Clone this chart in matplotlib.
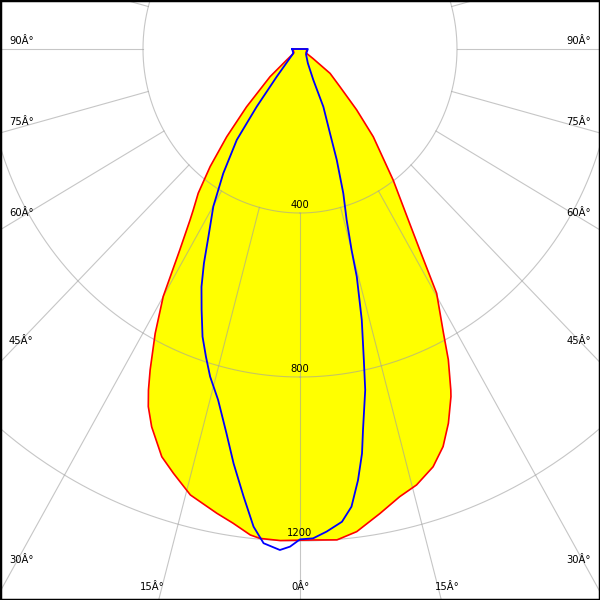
import numpy as np
import matplotlib
matplotlib.use("Agg")
import matplotlib.pyplot as plt

# light distribution, angle from nadir (deg) -> intensity (cd)
# C0-C180 plane (red, filled)
red_angles = [-90, -60, -55, -51.7, -48.5, -44.0, -41.1, -38.6, -36.4, -34.7, -33.9,
              -32.0, -30.0, -28.0, -26.0, -24.9, -23.9, -22.3, -19.5, -17.3, -14.4,
              -10.6, -8.4, -6.1, -4.9, -2.4, 0, 1.6, 4.5, 7.0, 10.2, 13.1, 15.6, 18.4,
              20.6, 22.5, 24.4, 24.8, 26.5, 27.8, 30.3, 31.9, 33.5, 36.6, 41.1, 44.2,
              47.9, 52.2, 55, 58, 90]
red_cd = [18, 18, 25, 43, 102, 196, 284, 367, 437, 478, 502,
          578, 697, 786, 871, 917, 954, 996, 1055, 1084, 1123,
          1152, 1169, 1192, 1198, 1200, 1198, 1198, 1201, 1186, 1151, 1121, 1104, 1074,
          1036, 988, 931, 916, 847, 784, 690, 578, 500, 398, 284, 207,
          137, 97, 40, 18, 18]

# C90-C270 plane (blue)
blue_angles = [-90, -58.5, -41.3, -38.1, -36.0, -32.8, -29.9, -27.0, -25.1, -23.4,
               -21.5, -19.5, -17.7, -16.0, -13.7, -11.3, -9.5, -7.5, -5.8, -4.4,
               -2.4, -1.2, 0, 1.6, 3.3, 5.3, 6.7, 8.0, 9.1, 9.8, 11.3, 12.1, 13.4,
               14.6, 15.0, 15.9, 17.4, 19.1, 20.4, 22.9, 24.2, 30, 50, 90]
blue_cd = [20, 20, 90, 179, 274, 361, 443, 514, 577, 632,
           684, 744, 788, 831, 881, 956, 1025, 1101, 1171, 1209,
           1223, 1214, 1196, 1194, 1179, 1158, 1124, 1062, 999, 943, 848, 776, 679,
           574, 508, 434, 369, 286, 219, 153, 83, 40, 20, 20]

ring_values = [400, 800, 1200, 1600]
ring_labels = ["400", "800", "1200"]

angle_labels_left = ["90Â°", "75Â°", "60Â°", "45Â°", "30Â°"]
angle_labels_left_y = [41, 122, 213, 341, 560]
angle_labels_bottom = ["15Â°", "0Â°", "15Â°"]
angle_labels_bottom_x = [152, 300, 447]

# pixel scale of the original (slightly stretched vertically)
SX = 157 / 400.0
SY = 164 / 400.0
CX, CY = 300, 49


def px(x, y):
    return (x - CX) / SX, (CY - y) / SY


def to_xy(angles, cd):
    a = np.radians(np.asarray(angles, dtype=float))
    r = np.asarray(cd, dtype=float)
    return r * np.sin(a), -r * np.cos(a)


fig = plt.figure(figsize=(6, 6), dpi=100)
ax = fig.add_axes([0, 0, 1, 1])
x0, y0 = px(0, 0)
x1, y1 = px(600, 600)
ax.set_xlim(x0, x1)
ax.set_ylim(y1, y0)
ax.set_xticks([])
ax.set_yticks([])
for s in ax.spines.values():
    s.set_linewidth(2.5)
    s.set_color("black")

# filled C0-C180 curve
rx, ry = to_xy(red_angles, red_cd)
ax.fill(rx, ry, color="#ffff00", zorder=1, lw=0)

# grid
t = np.linspace(0, 2 * np.pi, 721)
for v in ring_values:
    ax.plot(v * np.sin(t), -v * np.cos(t), color="#a0a0a0", lw=0.8, alpha=0.6, zorder=2)
for a in range(0, 360, 15):
    ar = np.radians(a)
    ax.plot([400 * np.sin(ar), 2500 * np.sin(ar)], [-400 * np.cos(ar), -2500 * np.cos(ar)],
            color="#a0a0a0", lw=0.8, alpha=0.6, zorder=2)

# curves
ax.plot(np.append(rx, rx[0]), np.append(ry, ry[0]), color="#ff0000", lw=1.2, zorder=3)
bx, by = to_xy(blue_angles, blue_cd)
ax.plot(np.append(bx, bx[0]), np.append(by, by[0]), color="#0000ff", lw=1.3, zorder=4)

# labels
fs = 7.2
for v, lab in zip(ring_values, ring_labels):
    ax.text(0, -v + 8, lab, ha="center", va="bottom", fontsize=fs, zorder=5)
for lab, y in zip(angle_labels_left, angle_labels_left_y):
    ax.text(*px(9, y), lab, ha="left", va="center", fontsize=fs, zorder=5)
    ax.text(*px(591, y), lab, ha="right", va="center", fontsize=fs, zorder=5)
for lab, x in zip(angle_labels_bottom, angle_labels_bottom_x):
    ax.text(*px(x, 587), lab, ha="center", va="center", fontsize=fs, zorder=5)

fig.savefig("out.png", dpi=100)
